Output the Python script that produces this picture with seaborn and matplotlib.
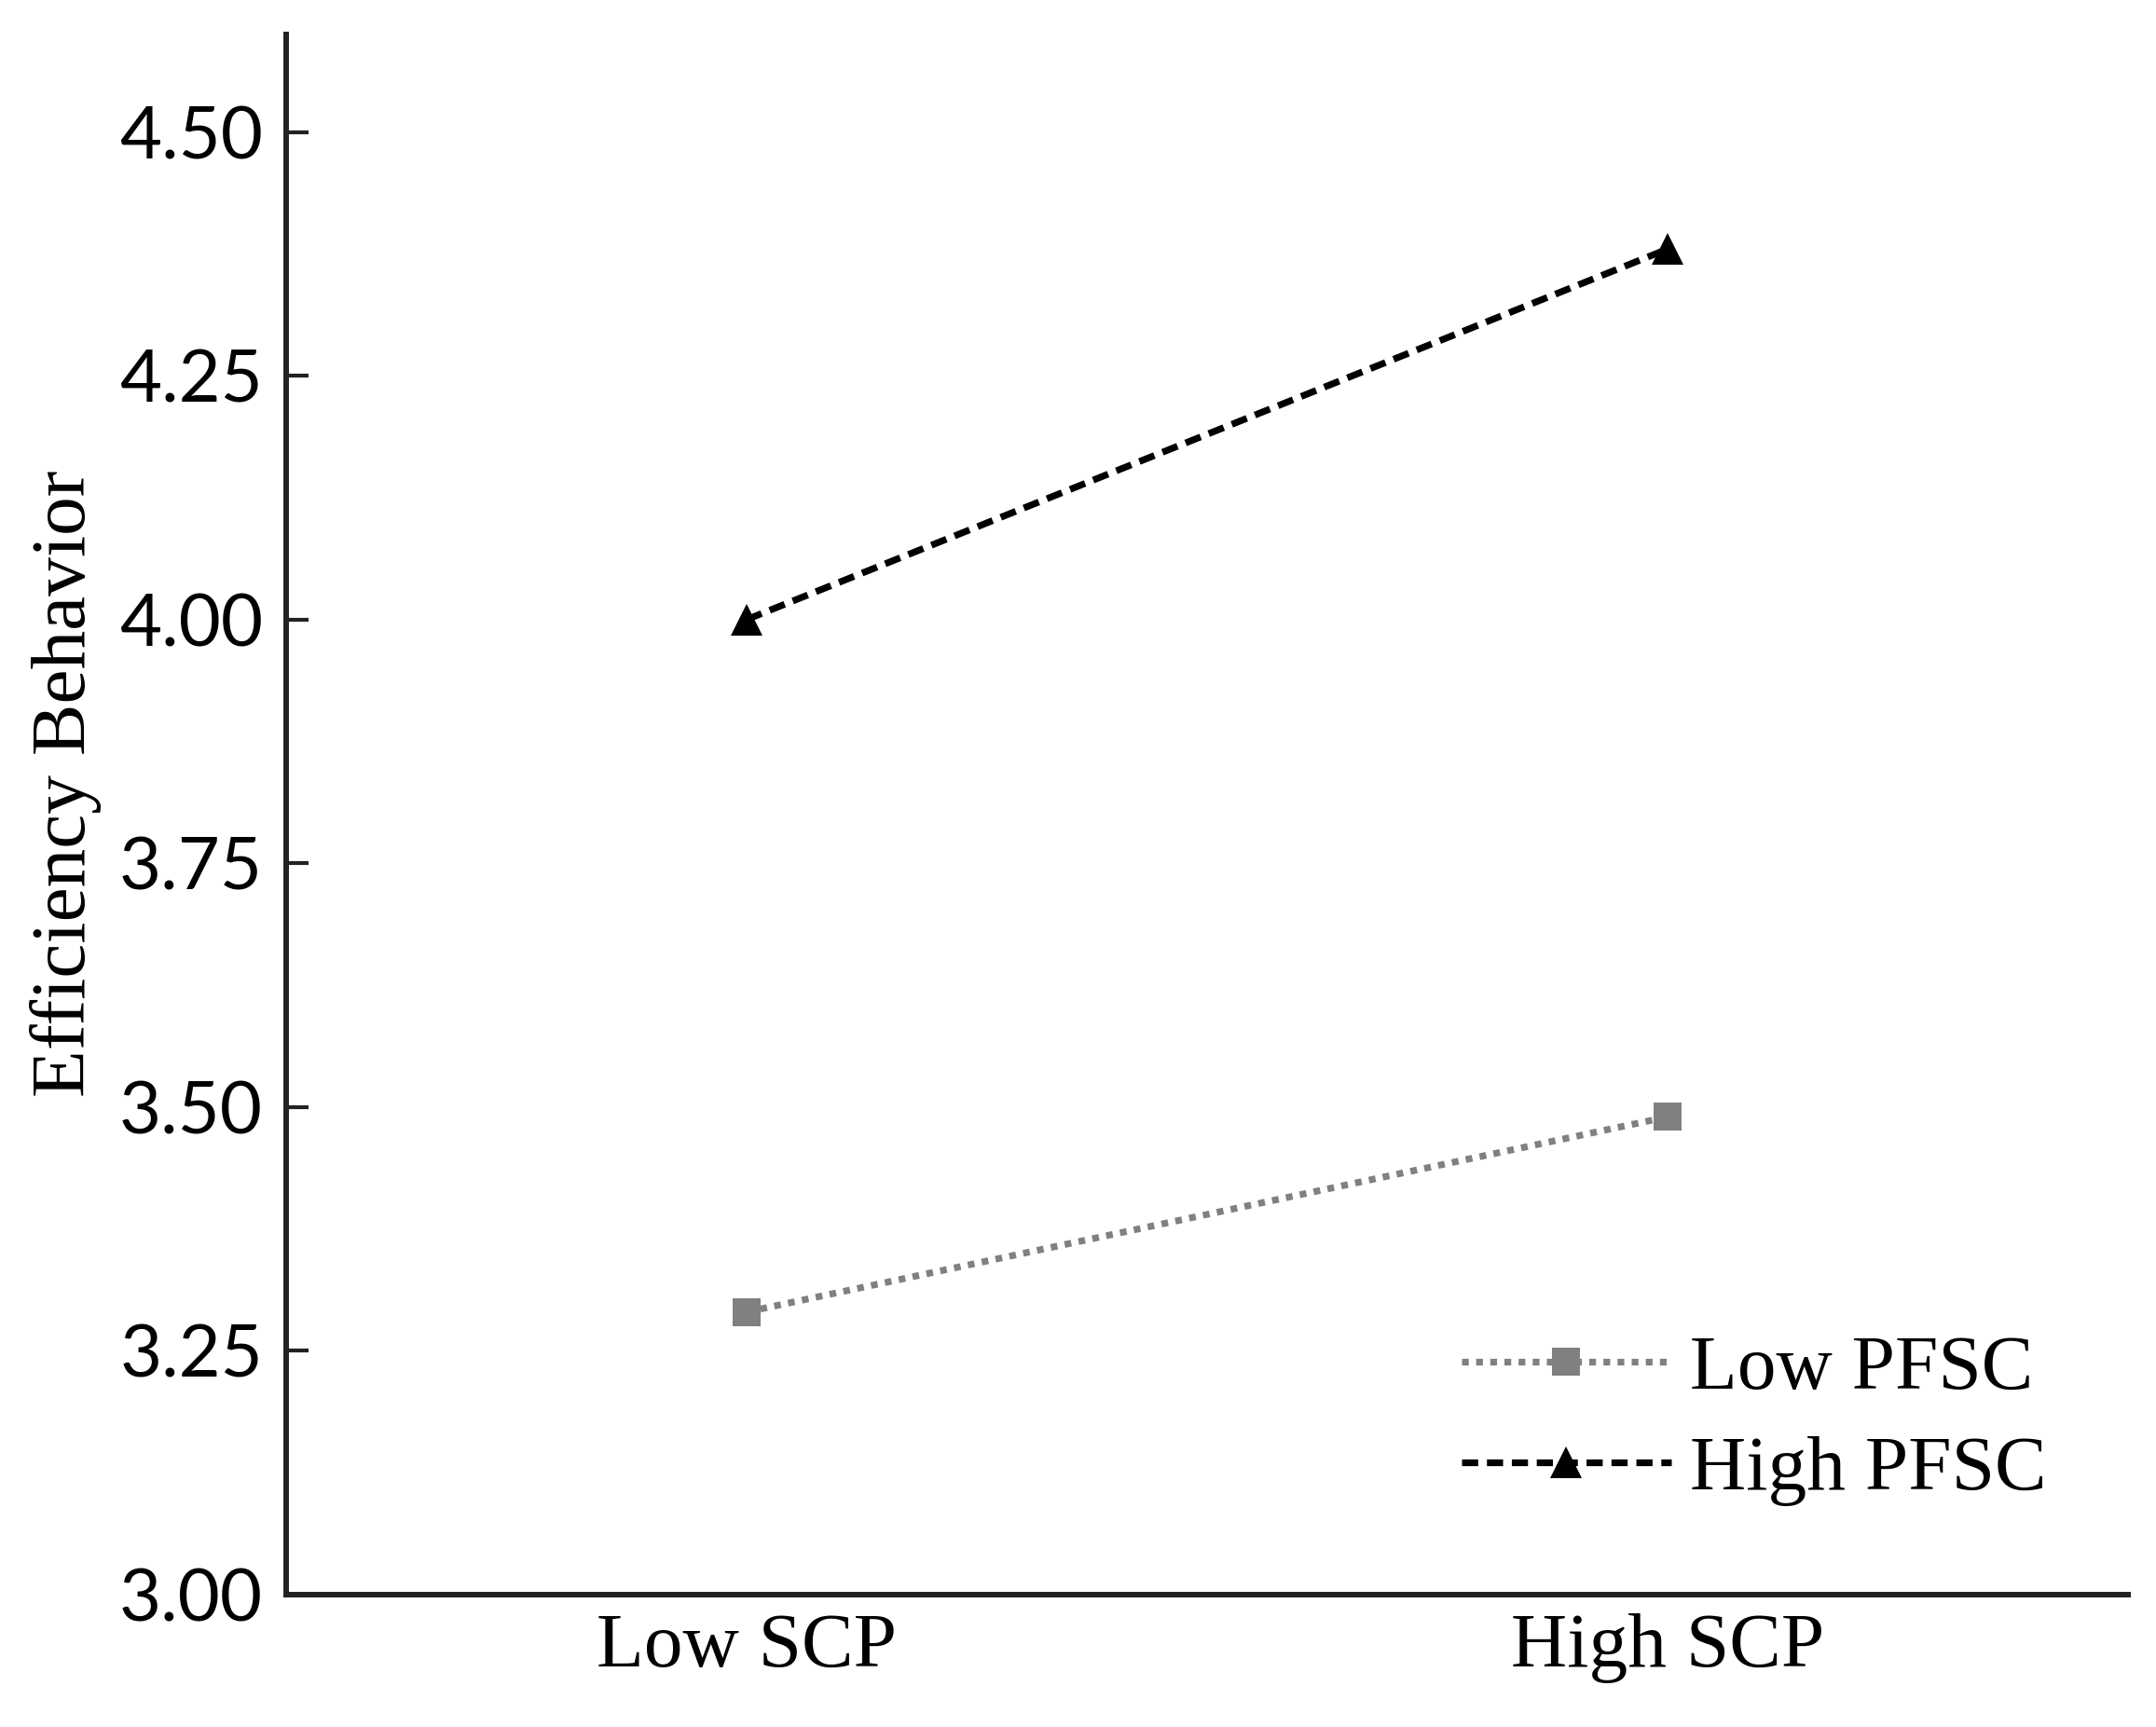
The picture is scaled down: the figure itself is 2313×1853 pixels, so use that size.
import matplotlib
matplotlib.use("Agg")
import matplotlib.pyplot as plt
from matplotlib import font_manager
import seaborn as sns
import pandas as pd

# values
scp_levels = ["Low SCP", "High SCP"]
low_pfsc = [3.29, 3.49]
high_pfsc = [4.00, 4.38]
y_ticks = [3.00, 3.25, 3.50, 3.75, 4.00, 4.25, 4.50]

df = pd.DataFrame({
    "SCP": scp_levels * 2,
    "EB": low_pfsc + high_pfsc,
    "PFSC": ["Low PFSC"] * 2 + ["High PFSC"] * 2,
})

# pick a Times-like face that is actually there
names = {f.name for f in font_manager.fontManager.ttflist}
serif = next((n for n in ["Liberation Serif", "Times New Roman", "Nimbus Roman",
                          "Noto Serif", "DejaVu Serif"] if n in names), "serif")
sans = next((n for n in ["Lato", "Open Sans", "Liberation Sans", "DejaVu Sans"]
             if n in names), "sans-serif")

sns.set_theme(style="ticks")
plt.rcParams["font.family"] = [serif, "DejaVu Serif"]
plt.rcParams["text.color"] = "black"
plt.rcParams["axes.labelcolor"] = "black"

fig = plt.figure(figsize=(23.13, 18.53), dpi=100)
ax = fig.add_axes([0.1327, 0.0766, 0.8543, 0.9034])

sns.lineplot(
    data=df, x="SCP", y="EB", hue="PFSC", style="PFSC",
    palette={"Low PFSC": "#808080", "High PFSC": "#000000"},
    markers={"Low PFSC": "s", "High PFSC": "^"},
    dashes={"Low PFSC": (1.0, 1.1), "High PFSC": (2.4, 1.3)},
    linewidth=5.2, markersize=22, markeredgewidth=0,
    sort=False, ax=ax,
)
for line in ax.lines:
    if line.get_marker() == "^":
        line.set_markersize(25)

ax.set_xlim(-0.5, 1.5)
ax.set_ylim(3.0, 4.6)
ax.set_yticks(y_ticks)
ax.set_yticklabels([f"{v:.2f}" for v in y_ticks], family=sans, fontsize=56)
ax.set_xticks([0, 1])
ax.set_xticklabels(scp_levels, fontsize=60, family=serif)

ax.tick_params(axis="y", direction="in", length=17, width=3, pad=18,
               colors="#222222", labelcolor="black")
ax.tick_params(axis="x", length=0, pad=14, labelcolor="black")

sns.despine(ax=ax)
for side in ["left", "bottom"]:
    ax.spines[side].set_linewidth(4.3)
    ax.spines[side].set_color("#222222")

ax.set_xlabel("")
ax.set_ylabel("Efficiency Behavior", fontsize=60, family=serif, color="black")
ax.yaxis.set_label_coords(-0.1, 0.52)

handles, labels = ax.get_legend_handles_labels()
leg = ax.legend(
    handles, labels, loc="center left", bbox_to_anchor=(0.638, 0.112),
    frameon=False, prop={"family": serif, "size": 60}, handlelength=2.7,
    handletextpad=0.25, labelspacing=0.38, borderpad=0, borderaxespad=0,
)
for t in leg.get_texts():
    t.set_color("black")

fig.savefig("out.png", dpi=100, facecolor="white")
